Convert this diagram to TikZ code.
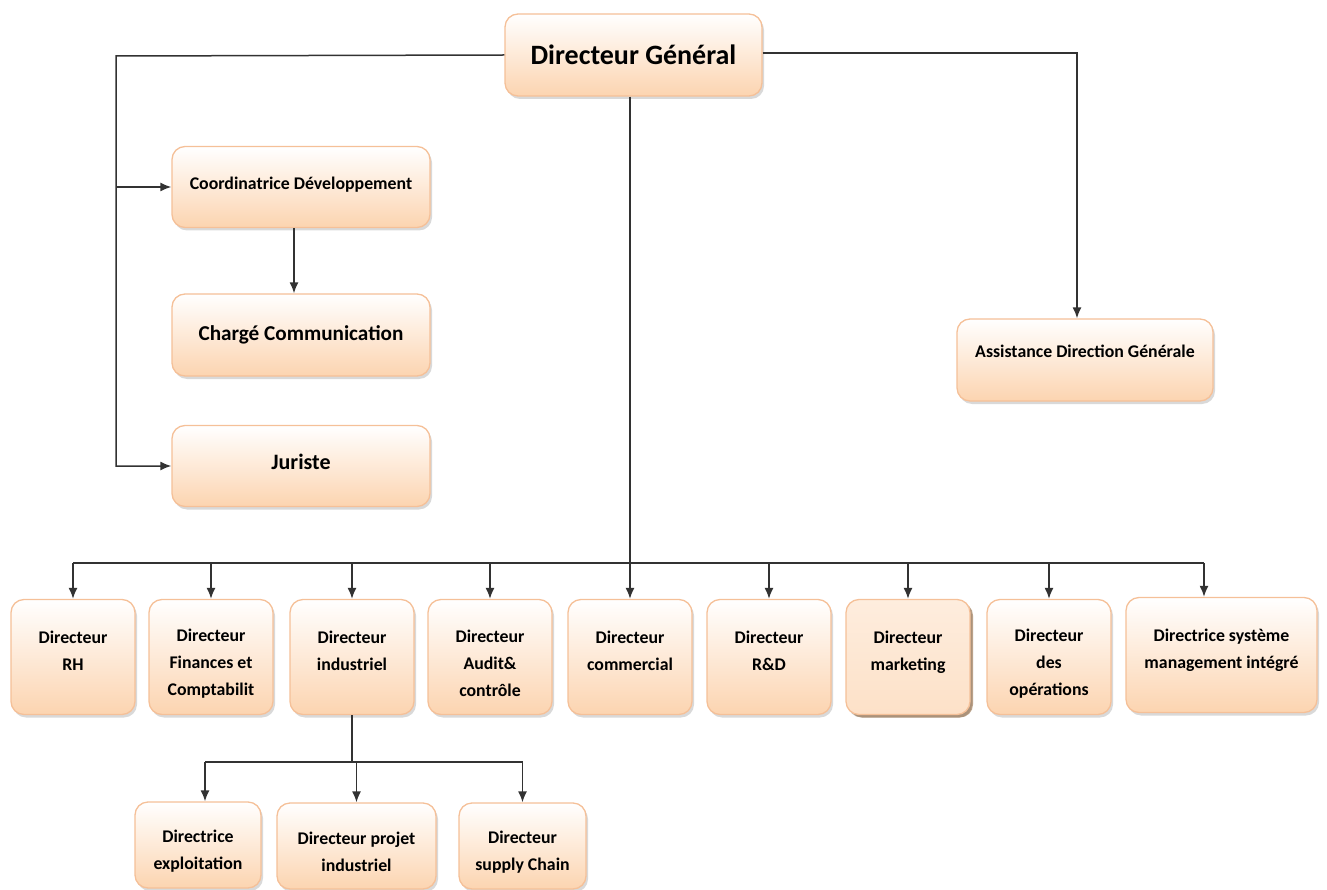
\documentclass[tikz,border=0pt]{standalone}
\usepackage{fontspec}
\setmainfont{Carlito}
\usepackage{tikz}
\usetikzlibrary{arrows, arrows.meta, shadows, positioning}
\definecolor{boxline}{RGB}{245,192,152}
\definecolor{boxfill}{RGB}{252,212,176}
\definecolor{linkcol}{RGB}{50,50,50}
\tikzstyle{box}=[rectangle, rounded corners=13pt, draw=boxline, line width=1.3pt, top color=white, bottom color=boxfill, drop shadow={opacity=0.3, shadow xshift=2pt, shadow yshift=-3pt}, align=center, inner sep=0pt, font=\bfseries\fontsize{17.8}{27}\selectfont]
\tikzstyle{dir}=[box, minimum width=124pt, minimum height=115pt, execute at begin node={\rule{0pt}{80pt}}]
\tikzstyle{sub}=[box, minimum height=86pt, execute at begin node={\rule{0pt}{51pt}}]
\tikzstyle{flat}=[top color=white!30!boxfill!60, bottom color=boxfill!70, drop shadow={opacity=0.55, fill=brown!70!black, shadow xshift=3pt, shadow yshift=-3pt}]
\tikzstyle{link}=[linkcol, line width=1.5pt]
\tikzstyle{post}=[link, -{Latex[length=11pt, width=9pt]}]

\begin{document}
\begin{tikzpicture}[x=1pt, y=-1pt]
  \useasboundingbox (0,0) rectangle (1327,890);

  % top of the chart
  \node[box, minimum width=257pt, minimum height=82pt, font=\bfseries\fontsize{28}{32}\selectfont] (dg) at (633.5,55) {Directeur Général};
  \node[box, minimum width=258pt, minimum height=81pt, execute at begin node={\rule[-8pt]{0pt}{8pt}}] (coord) at (301,187) {Coordinatrice Développement};
  \node[box, minimum width=258pt, minimum height=82pt, font=\bfseries\fontsize{21.2}{24}\selectfont] (charge) at (301,335) {Chargé Communication};
  \node[box, minimum width=258pt, minimum height=81pt, font=\bfseries\fontsize{22}{24}\selectfont, execute at begin node={\rule[-9pt]{0pt}{9pt}}] (jur) at (301,466) {Juriste};
  \node[box, minimum width=256pt, minimum height=82pt, execute at begin node={\rule[-17pt]{0pt}{17pt}}] (asst) at (1085,360) {Assistance Direction Générale};

  % directors
  \node[dir] (rh) at (73,657) {Directeur\\RH\\\mbox{}};
  \node[dir] (fin) at (211,657) {Directeur\\Finances et\\Comptabilit};
  \node[dir] (ind) at (352,657) {Directeur\\industriel\\\mbox{}};
  \node[dir] (aud) at (490,657) {Directeur\\Audit\&\\contrôle};
  \node[dir] (com) at (630,657) {Directeur\\commercial\\\mbox{}};
  \node[dir] (rd) at (769,657) {Directeur\\R\&D\\\mbox{}};
  \node[dir, flat] (mkt) at (908,657) {Directeur\\marketing\\\mbox{}};
  \node[dir] (ops) at (1049,657) {Directeur\\des\\opérations};
  \node[dir, minimum width=191pt] (sys) at (1221.5,655) {Directrice système\\management intégré\\\mbox{}};

  % under the industrial director
  \node[sub, minimum width=126pt] (expl) at (198,845) {Directrice\\exploitation};
  \node[sub, minimum width=159pt] (proj) at (356.5,846) {Directeur projet\\industriel};
  \node[sub, minimum width=127pt] (supp) at (522.5,846) {Directeur\\supply Chain};

  % links
  \coordinate (lbus) at (116,56);
  \draw[post] (dg.west) -- (lbus) |- (jur.west);
  \draw[post] (lbus |- coord.west) -- (coord.west);
  \coordinate (rbus) at (1077,53);
  \draw[post] (dg.east |- rbus) -- (rbus) -- (rbus |- asst.north);
  \draw[post] (coord.south -| 294,0) -- (charge.north -| 294,0);

  \coordinate (bus) at (630,563);
  \draw[link] (dg.south -| bus) -- (bus);
  \draw[link] (rh.north |- bus) -- (1204,563);
  \foreach \n in {rh, fin, ind, aud, com, rd, mkt, ops}
    \draw[post] (\n.north |- bus) -- (\n.north);
  \draw[post] (1204,563) -- (sys.north -| 1204,0);

  \coordinate (ibus) at (352,762);
  \draw[link] (ind.south) -- (ibus);
  \draw[link] (205,762) -- (supp.north |- ibus);
  \draw[post] (205,762) -- (expl.north -| 205,0);
  \foreach \n in {proj, supp}
    \draw[post] (\n.north |- ibus) -- (\n.north);
\end{tikzpicture}
\end{document}
